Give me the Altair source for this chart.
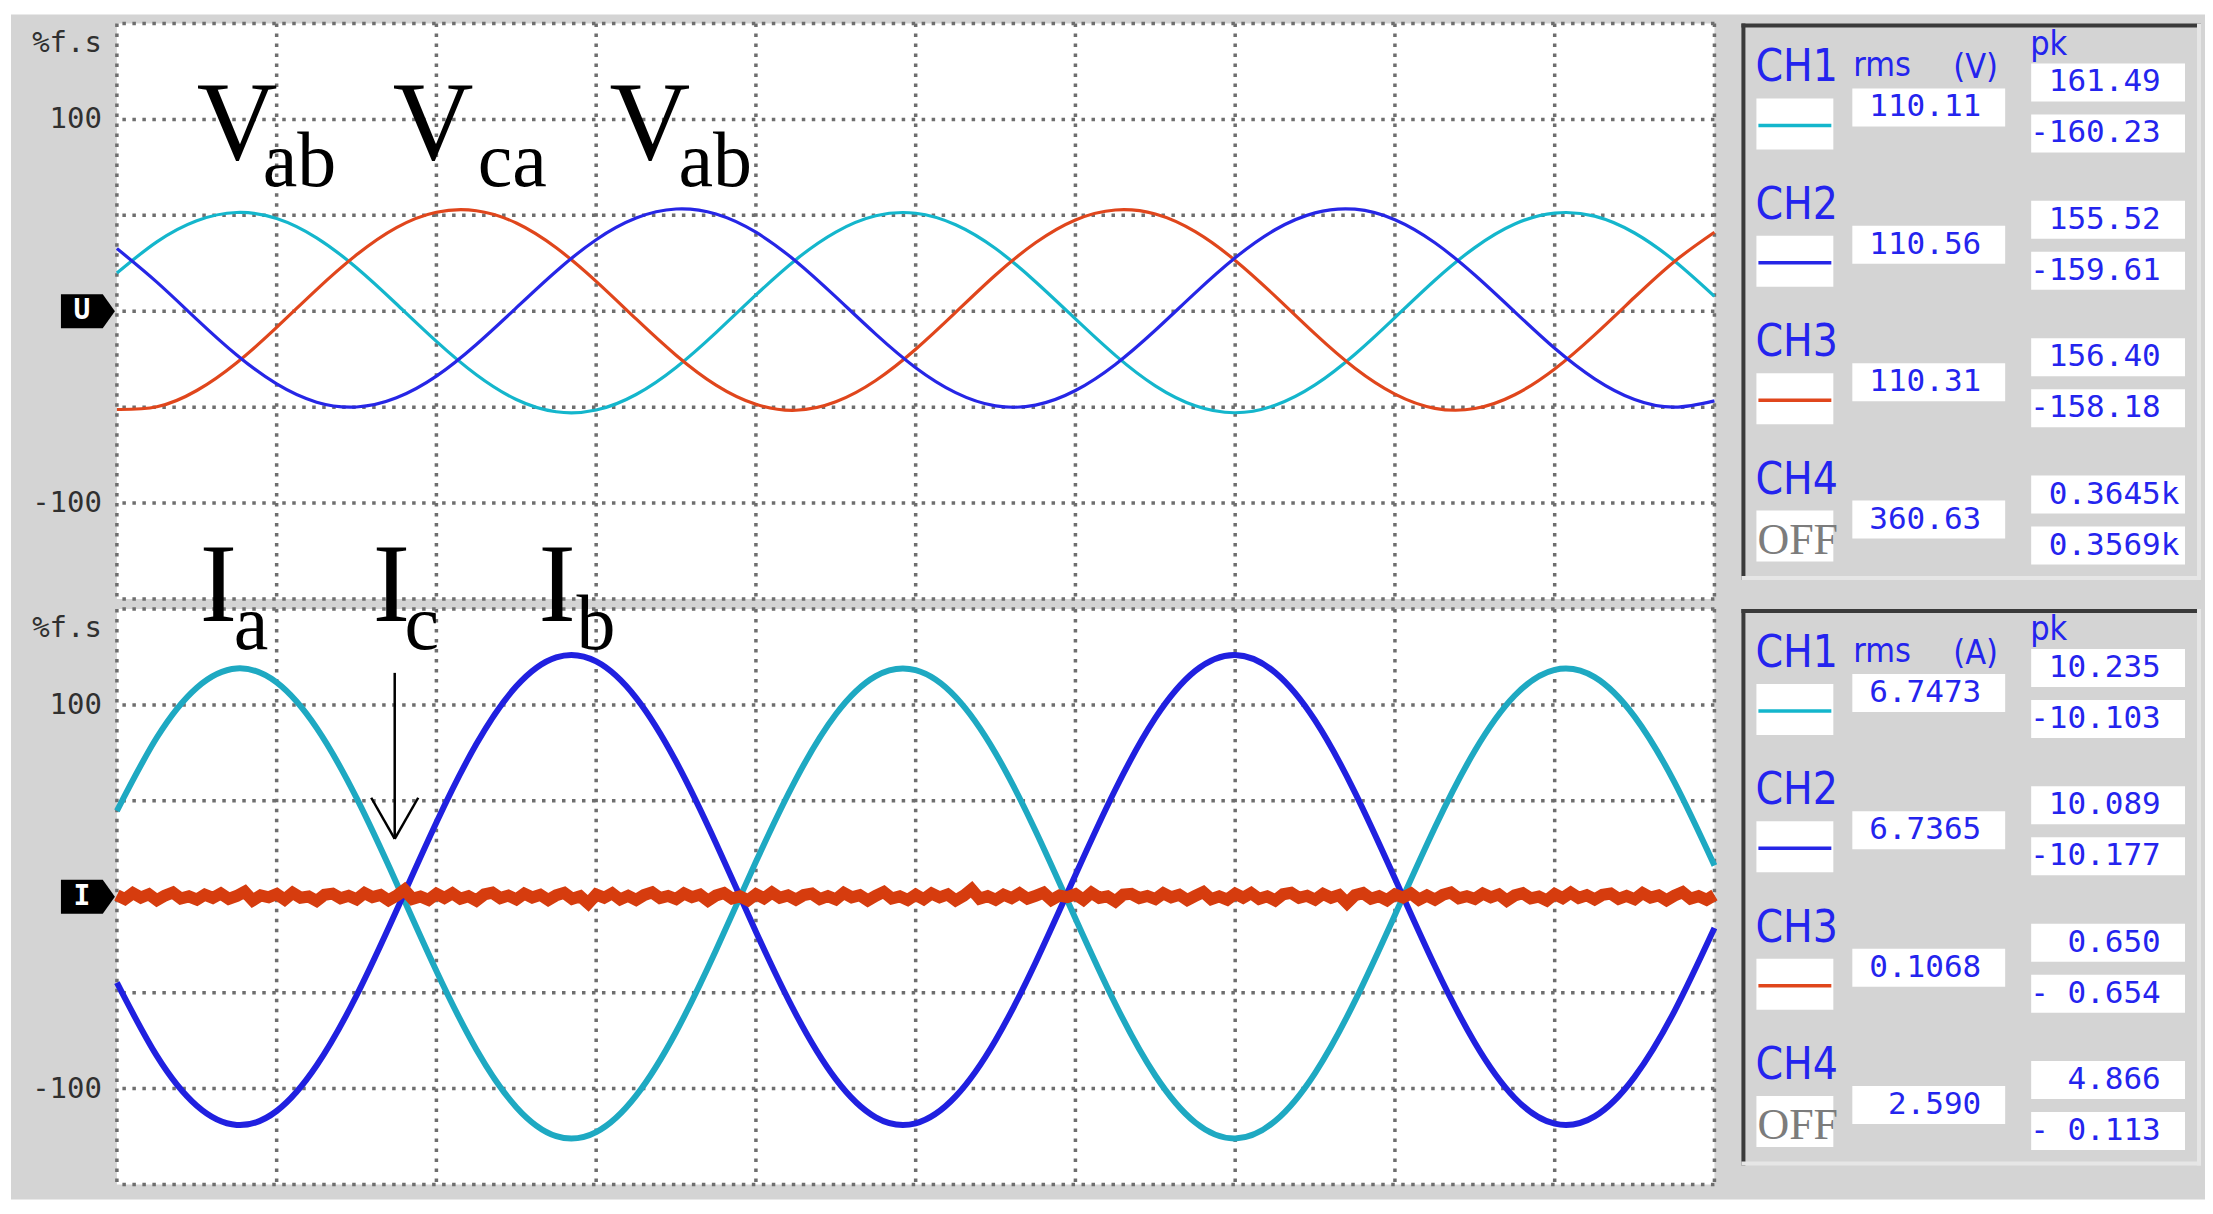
import altair as alt
import pandas as pd

# ---------------- data (time in divisions, values in % f.s.) ----------------
T = [i * 0.25 for i in range(41)]

V_CH1 = [19.9, 36.2, 47.2, 51.5, 48.4, 38.3, 22.7, 3.8, -15.7, -33.1, -46.0, -52.4, -51.5, -43.4,
         -29.3, -11.1, 8.5, 26.9, 41.3, 49.8, 51.1, 45.1, 32.7, 15.4, -4.0, -23.0, -38.9, -49.3,
         -52.9, -49.0, -38.4, -22.4, -3.3, 16.2, 33.2, 45.5, 51.2, 49.6, 40.8, 26.2, 7.8]
V_CH2 = [32.7, 15.2, -4.2, -22.8, -37.9, -47.4, -49.9, -45.1, -33.8, -17.3, 1.8, 20.9, 37.3, 48.6,
         53.3, 50.7, 41.2, 26.1, 7.5, -11.9, -29.4, -42.4, -49.3, -48.9, -41.3, -27.7, -9.9, 9.6,
         27.9, 42.5, 51.3, 53.2, 47.7, 35.7, 18.9, -0.3, -19.3, -35.2, -46.0, -50.0, -46.7]
V_CH3 = [-51.2, -49.8, -41.3, -26.8, -8.4, 11.3, 29.4, 43.6, 51.6, 52.4, 46.0, 33.1, 15.6, -4.0,
         -22.9, -38.5, -48.5, -51.6, -47.2, -36.1, -19.8, -0.6, 18.9, 35.7, 47.6, 52.8, 50.7, 41.5,
         26.5, 7.9, -11.8, -29.7, -43.2, -50.6, -50.7, -43.5, -30.1, -12.3, 7.3, 26.0, 41.2]

I_CH1 = [44.8, 83.0, 109.0, 119.0, 111.7, 88.0, 51.5, 7.2, -38.7, -79.6, -109.7, -124.8, -122.7,
         -103.7, -70.5, -27.9, 18.2, 61.2, 95.1, 115.0, 118.1, 104.1, 74.8, 34.4, -11.3, -55.9,
         -93.2, -117.7, -126.0, -116.9, -91.9, -54.3, -9.5, 36.1, 76.1, 104.9, 118.3, 114.5, 93.9,
         59.6, 16.3]
I_CH2 = [-44.8, -83.0, -109.0, -119.0, -111.7, -88.0, -51.5, -7.2, 38.7, 79.6, 109.7, 124.8, 122.7,
         103.7, 70.5, 27.9, -18.2, -61.2, -95.1, -115.0, -118.1, -104.1, -74.8, -34.4, 11.3, 55.9,
         93.2, 117.7, 126.0, 116.9, 91.9, 54.3, 9.5, -36.1, -76.1, -104.9, -118.3, -114.5, -93.9,
         -59.6, -16.3]
I_CH3 = [0.8, -1.2, 1.9, -0.4, 1.3, -1.8, 0.6, 2.2, -0.9, 0.2,
         -1.5, 1.1, -0.6, 1.7, -1.1, 0.4, 2.6, -1.9, 0.7, -0.3,
         1.4, -1.4, 2.0, -0.5, 0.1, -2.2, 1.0, 1.6, -0.8, 0.5,
         -1.3, 1.9, -0.2, 0.9, -1.8, 0.5, 3.6, -1.1, 0.1, -1.6,
         1.5, -0.6, 1.8, -1.0, 0.3, -2.0, 1.2, 2.1, -0.7, 0.6,
         -1.4, 1.6, -0.4, 1.0, -1.7, 0.7, 2.0, -1.1, 0.2, -3.5,
         1.1, -0.5, 1.8, -1.4, 0.5, -1.6, 0.9, 2.3, -0.7, 0.4,
         -1.2, 1.7, -0.2, 1.1, -2.1, 0.6, 1.9, -0.9, 0.2, -1.8,
         1.3, -0.8, 2.2, -0.5, 0.7, -1.5, 0.9, 1.6, -1.2, 0.3,
         -1.4, 2.0, -0.3, 0.8, -1.9, 0.5, 2.5, -0.9, 0.2, -1.7,
         1.0, -1.3, 1.7, -0.3, 1.2, -1.9, 0.5, 3.9, -1.0, 0.3,
         -1.6, 1.0, -0.7, 1.8, -1.0, 0.5, 2.1, -1.7, 0.6, -0.2,
         1.3, -1.5, 2.1, -0.6, 0.2, -2.4, 1.1, 1.5, -0.7, 0.4,
         -1.2, 1.8, -0.3, 1.0, -1.7, 0.4, 2.4, -1.3, 0.2, -1.5,
         1.6, -0.5, 1.9, -1.1, 0.2, -1.9, 1.3, 2.0, -0.6, 0.5,
         -1.5, 1.5, -0.5, 0.9, -3.3, 0.8, 1.9, -1.0, 0.3, -1.8,
         1.2, -0.4, 1.7, -1.5, 0.6, -1.5, 1.0, 2.2, -0.8, 0.3,
         -1.1, 1.6, -0.3, 1.2, -2.0, 0.7, 1.8, -0.8, 0.1, -1.9,
         1.4, -0.7, 2.1, -0.6, 0.8, -1.4, 1.0, 1.7, -1.1, 0.4,
         -1.3, 1.9, -0.4, 0.7, -1.8, 0.6, 2.4, -1.0, 0.3, -1.6,
         0.9]
T_NOISE = [i * 0.05 for i in range(len(I_CH3))]

Y_TICKS = [100, -100]
GRID_X = list(range(11))
GRID_Y = [-150, -100, -50, 0, 50, 100, 150]

V_MAIN = ["V", "V", "V"]
V_SUB = ["ab", "ca", "ab"]
I_MAIN = ["I", "I", "I"]
I_SUB = ["a", "c", "b"]

CHANNELS = ["CH1", "CH2", "CH3", "CH4"]
V_RMS = ["110.11", "110.56", "110.31", "360.63"]
V_PK_POS = [" 161.49", " 155.52", " 156.40", " 0.3645k"]
V_PK_NEG = ["-160.23", "-159.61", "-158.18", " 0.3569k"]
A_RMS = ["6.7473", "6.7365", "0.1068", " 2.590"]
A_PK_POS = [" 10.235", " 10.089", "  0.650", "  4.866"]
A_PK_NEG = ["-10.103", "-10.177", "- 0.654", "- 0.113"]

# ---------------- layout & style ----------------
PLOT_W, PLOT_H = 1599, 576
PX_DIV = PLOT_W / 10.0
PX_PCT = PLOT_H / 300.0
PANEL_W = 460
GRAY = "#d4d4d4"
GRID_COL = "#6e6e6e"
MONO = "DejaVu Sans Mono"
NARROW = "Liberation Sans Narrow, DejaVu Sans Condensed, Arial Narrow, sans-serif"
SERIF = "Liberation Serif, Times New Roman, serif"
TXT_BLUE = "#2424ee"
V_COL = ["#14b6cc", "#2626e6", "#e0461c"]
I_COL = ["#1ea9c2", "#2020e0", "#d63c0e"]
VAL_SIZE = 31
CHAR_W = 0.602 * VAL_SIZE

# annotation positions (divisions, %)
V_MAIN_X, V_SUB_X = [0.500, 1.726, 3.083], [0.913, 2.258, 3.515]
I_MAIN_X, I_SUB_X = [0.519, 1.601, 2.639], [0.732, 1.801, 2.877]
ARROW = pd.DataFrame({"x": [1.739, 1.592, 1.886], "y": [116.7, 51.6, 51.6],
                      "x2": [1.739, 1.739, 1.739], "y2": [30.2, 30.2, 30.2]})

SX = alt.Scale(domain=[0, 10], nice=False, zero=False)
SY = alt.Scale(domain=[-150, 150], nice=False, zero=False)


def X(f):
    return alt.X(f, type="quantitative", scale=SX, axis=None)


def Y(f):
    return alt.Y(f, type="quantitative", scale=SY, axis=None)


def plot(kind):
    layers = []
    if kind == "V":
        # page background (gray frame of the instrument screen)
        gx0, gx1 = -106 / PX_DIV, 2090 / PX_DIV
        gy1, gy0 = 150 + 9 / PX_PCT, 150 - 1177 / PX_PCT
        bg = pd.DataFrame({"x": [gx0], "x2": [gx1], "y": [gy0], "y2": [gy1]})
        layers.append(alt.Chart(bg).mark_rect(color=GRAY).encode(
            x=X("x"), x2="x2", y=Y("y"), y2="y2"))
    white = pd.DataFrame({"x": [0], "x2": [10], "y": [-150], "y2": [150]})
    layers.append(alt.Chart(white).mark_rect(color="white").encode(
        x=X("x"), x2="x2", y=Y("y"), y2="y2"))
    layers.append(alt.Chart(pd.DataFrame({"x": GRID_X})).mark_rule(
        color=GRID_COL, strokeWidth=3.5, strokeDash=[3.5, 6.5]).encode(x=X("x")))
    layers.append(alt.Chart(pd.DataFrame({"y": GRID_Y})).mark_rule(
        color=GRID_COL, strokeWidth=3.5, strokeDash=[3.5, 6.5]).encode(y=Y("y")))

    if kind == "V":
        for vals, col in [(V_CH1, V_COL[0]), (V_CH3, V_COL[2]), (V_CH2, V_COL[1])]:
            d = pd.DataFrame({"t": T, "v": vals})
            layers.append(alt.Chart(d).mark_line(interpolate="natural", strokeWidth=3.2,
                                                 color=col).encode(x=X("t"), y=Y("v")))
        main_txt, main_x, sub_txt, sub_x = V_MAIN, V_MAIN_X, V_SUB, V_SUB_X
        main_y, sub_y = 79.2, 65.1
        mark_letter = "U"
    else:
        for vals, col in [(I_CH1, I_COL[0]), (I_CH2, I_COL[1])]:
            d = pd.DataFrame({"t": T, "v": vals})
            layers.append(alt.Chart(d).mark_line(interpolate="natural", strokeWidth=6,
                                                 color=col).encode(x=X("t"), y=Y("v")))
        d = pd.DataFrame({"t": T_NOISE, "v": I_CH3})
        layers.append(alt.Chart(d).mark_line(strokeWidth=12, color=I_COL[2]).encode(
            x=X("t"), y=Y("v")))
        layers.append(alt.Chart(ARROW).mark_rule(color="black", strokeWidth=2.5).encode(
            x=X("x"), y=Y("y"), x2="x2", y2="y2"))
        main_txt, main_x, sub_txt, sub_x = I_MAIN, I_MAIN_X, I_SUB, I_SUB_X
        main_y, sub_y = 143.75, 129.2
        mark_letter = "I"

    layers.append(alt.Chart(pd.DataFrame({"x": main_x, "y": [main_y] * 3, "txt": main_txt}))
                  .mark_text(font=SERIF, fontSize=112, align="left", baseline="alphabetic",
                             color="black").encode(x=X("x"), y=Y("y"), text="txt"))
    layers.append(alt.Chart(pd.DataFrame({"x": sub_x, "y": [sub_y] * 3, "txt": sub_txt}))
                  .mark_text(font=SERIF, fontSize=78, align="left", baseline="alphabetic",
                             color="black").encode(x=X("x"), y=Y("y"), text="txt"))

    # left strip labels
    lab = pd.DataFrame({"x": [0, 0, 0], "y": [140] + Y_TICKS,
                        "txt": ["%f.s"] + [str(v) for v in Y_TICKS]})
    layers.append(alt.Chart(lab).mark_text(font=MONO, fontSize=29, align="right", dx=-15,
                                           baseline="middle", color="#303030")
                  .encode(x=X("x"), y=Y("y"), text="txt"))
    mk = pd.DataFrame({"x": [-29 / PX_DIV], "y": [0]})
    layers.append(alt.Chart(mk).mark_point(
        shape="M-1,-0.63L0.55,-0.63L1,0L0.55,0.63L-1,0.63Z", filled=True, size=2916,
        color="black", opacity=1).encode(x=X("x"), y=Y("y")))
    mt = pd.DataFrame({"x": [-35 / PX_DIV], "y": [0], "txt": [mark_letter]})
    layers.append(alt.Chart(mt).mark_text(font=MONO, fontSize=28, fontWeight="bold",
                                          color="white", baseline="middle")
                  .encode(x=X("x"), y=Y("y"), text="txt"))
    return alt.layer(*layers).properties(width=PLOT_W, height=PLOT_H)


PX = alt.Scale(domain=[0, PANEL_W], nice=False, zero=False)
PY = alt.Scale(domain=[0, PLOT_H], nice=False, zero=False, reverse=True)


def PXe(f):
    return alt.X(f, type="quantitative", scale=PX, axis=None)


def PYe(f):
    return alt.Y(f, type="quantitative", scale=PY, axis=None)


def field_rows(strings, x0, ys):
    """fixed-width display fields: leading blanks become an x offset of whole characters"""
    rows = []
    for s, y in zip(strings, ys):
        n = len(s) - len(s.lstrip(" "))
        rows.append({"x": x0 + n * CHAR_W, "y": y, "txt": s.lstrip(" ")})
    return pd.DataFrame(rows)


def panel(unit, rms, pkp, pkn):
    step = 137.5
    boxes = []
    for i in range(4):
        o = step * i
        boxes += [(15, 92, 75 + o, 126 + o), (111, 264, 65 + o, 103 + o),
                  (290, 444, 40 + o, 78 + o), (290, 444, 91 + o, 129 + o)]
    bdf = pd.DataFrame(boxes, columns=["x", "x2", "y", "y2"])
    frame_dark = pd.DataFrame({"x": [2, 0], "x2": [2, PANEL_W], "y": [0, 2], "y2": [557, 2]})
    frame_light = pd.DataFrame({"x": [458, 0], "x2": [458, PANEL_W], "y": [0, 555],
                                "y2": [557, 555]})
    lines = pd.DataFrame({"x": [17] * 3, "x2": [90] * 3,
                          "y": [102 + step * i for i in range(3)],
                          "y2": [102 + step * i for i in range(3)],
                          "ch": CHANNELS[:3]})
    chdf = pd.DataFrame({"x": [14] * 4, "y": [58 + step * i for i in range(4)], "txt": CHANNELS})
    rmsdf = field_rows(rms, 128, [84 + step * i for i in range(4)])
    pkdf = field_rows(pkp + pkn, 289,
                      [59 + step * i for i in range(4)] + [110 + step * i for i in range(4)])
    hdr = pd.DataFrame({"x": [112, 212, 289], "y": [53, 55, 31], "txt": ["rms", unit, "pk"]})
    off = pd.DataFrame({"x": [16], "y": [118 + step * 3], "txt": ["OFF"]})

    L = [
        alt.Chart(frame_dark).mark_rule(color="#3a3a3a", strokeWidth=4).encode(
            x=PXe("x"), x2="x2", y=PYe("y"), y2="y2"),
        alt.Chart(frame_light).mark_rule(color="#e6e6e6", strokeWidth=4).encode(
            x=PXe("x"), x2="x2", y=PYe("y"), y2="y2"),
        alt.Chart(bdf).mark_rect(color="white").encode(
            x=PXe("x"), x2="x2", y=PYe("y"), y2="y2"),
        alt.Chart(lines).mark_rule(strokeWidth=3.5).encode(
            x=PXe("x"), x2="x2", y=PYe("y"), y2="y2",
            color=alt.Color("ch:N", scale=alt.Scale(domain=CHANNELS[:3], range=V_COL),
                            legend=None)),
        alt.Chart(chdf).mark_text(font=NARROW, fontSize=44, align="left", baseline="alphabetic",
                                  color=TXT_BLUE).encode(x=PXe("x"), y=PYe("y"), text="txt"),
        alt.Chart(hdr).mark_text(font=NARROW, fontSize=34, align="left", baseline="alphabetic",
                                 color=TXT_BLUE).encode(x=PXe("x"), y=PYe("y"), text="txt"),
        alt.Chart(rmsdf).mark_text(font=MONO, fontSize=VAL_SIZE, align="left", baseline="middle",
                                   color=TXT_BLUE).encode(x=PXe("x"), y=PYe("y"), text="txt"),
        alt.Chart(pkdf).mark_text(font=MONO, fontSize=VAL_SIZE, align="left", baseline="middle",
                                  color=TXT_BLUE).encode(x=PXe("x"), y=PYe("y"), text="txt"),
        alt.Chart(off).mark_text(font=SERIF, fontSize=44, align="left", baseline="alphabetic",
                                 color="#7c7c7c").encode(x=PXe("x"), y=PYe("y"), text="txt"),
    ]
    return alt.layer(*L).properties(width=PANEL_W, height=PLOT_H)


chart = alt.concat(
    plot("V"), panel("(V)", V_RMS, V_PK_POS, V_PK_NEG),
    plot("I"), panel("(A)", A_RMS, A_PK_POS, A_PK_NEG),
    columns=2, spacing={"row": 10, "column": 27}, bounds="flush",
).properties(
    padding={"left": 3, "top": 6, "right": 0, "bottom": 0},
    background="white",
).configure_view(strokeWidth=0)

chart.save("out.html", embed_options={"renderer": "svg", "actions": False})
